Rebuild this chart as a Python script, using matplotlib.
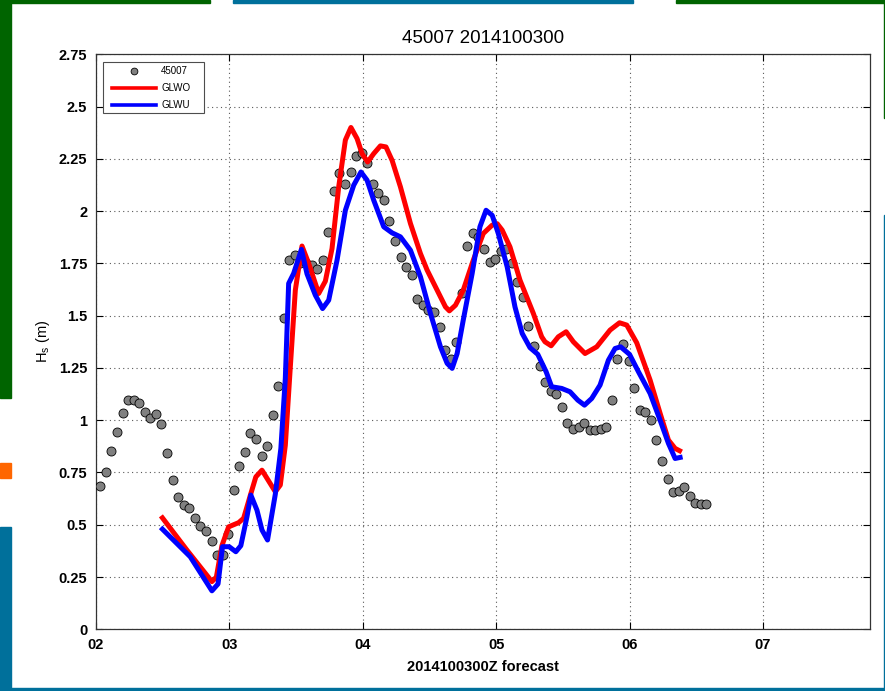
import numpy as np
import matplotlib
matplotlib.use("Agg")
import matplotlib.pyplot as plt
from matplotlib.patches import Rectangle

# buoy 45007 observations, hourly (hours after 02 00Z, obs at :50)
obs_start = 0.83
obs_hs = [0.686, 0.750, 0.852, 0.945, 1.035, 1.099, 1.096, 1.080, 1.039, 1.009,
          1.028, 0.980, 0.841, 0.714, 0.634, 0.593, 0.578, 0.533, 0.492, 0.471,
          0.421, 0.355, 0.357, 0.454, 0.664, 0.782, 0.847, 0.938, 0.911, 0.827,
          0.876, 1.024, 1.162, 1.489, 1.765, 1.788, 1.752, 1.750, 1.741, 1.722,
          1.768, 1.898, 2.095, 2.180, 2.131, 2.187, 2.262, 2.278, 2.230, 2.129,
          2.086, 2.052, 1.955, 1.859, 1.780, 1.735, 1.696, 1.582, 1.550, 1.529,
          1.516, 1.444, 1.334, 1.291, 1.373, 1.610, 1.831, 1.895, 1.875, 1.819,
          1.758, 1.770, 1.809, 1.818, 1.752, 1.662, 1.587, 1.450, 1.356, 1.260,
          1.182, 1.141, 1.125, 1.061, 0.988, 0.956, 0.966, 0.988, 0.953, 0.953,
          0.956, 0.967, 1.099, 1.291, 1.364, 1.284, 1.152, 1.047, 1.037, 1.002,
          0.905, 0.805, 0.720, 0.658, 0.661, 0.680, 0.636, 0.602, 0.600, 0.600]

# GLWO forecast
glwo_hr = [12.0, 16.4, 20.9, 21.7, 22.7, 23.9, 25.7, 26.6, 27.8, 28.8,
           29.9, 32.3, 33.2, 34.1, 35.0, 35.9, 37.1, 38.3, 40.1, 41.3,
           42.5, 43.7, 44.9, 45.9, 47.0, 47.9, 48.9, 50.0, 51.2, 52.2,
           53.3, 54.8, 56.6, 58.4, 59.6, 61.4, 62.9, 63.6, 64.7, 66.1,
           67.9, 69.7, 71.3, 72.2, 73.1, 74.5, 76.3, 78.7, 80.2, 80.8,
           81.9, 83.2, 84.6, 85.9, 88.0, 90.1, 92.5, 94.2, 95.5, 97.3,
           99.7, 101.5, 103.0, 104.2, 105.0]
glwo_hs = [0.533, 0.379, 0.228, 0.250, 0.400, 0.490, 0.510, 0.531, 0.640, 0.729,
           0.761, 0.658, 0.690, 0.880, 1.255, 1.622, 1.833, 1.750, 1.606, 1.665,
           1.821, 2.116, 2.340, 2.400, 2.347, 2.275, 2.235, 2.275, 2.312, 2.307,
           2.243, 2.116, 1.941, 1.797, 1.718, 1.622, 1.542, 1.523, 1.550, 1.622,
           1.765, 1.893, 1.933, 1.940, 1.909, 1.829, 1.670, 1.511, 1.399, 1.375,
           1.356, 1.399, 1.423, 1.375, 1.319, 1.351, 1.431, 1.466, 1.455, 1.370,
           1.192, 1.033, 0.905, 0.865, 0.854]

# GLWU forecast
glwu_hr = [12.0, 17.0, 20.9, 22.0, 22.8, 24.0, 25.2, 26.1, 27.2, 27.9,
           29.0, 29.9, 30.9, 32.3, 33.3, 34.1, 34.7, 35.6, 37.0, 38.0,
           39.5, 40.8, 41.9, 43.4, 44.9, 46.4, 47.7, 48.8, 50.0, 51.8,
           53.3, 54.8, 56.6, 58.4, 60.2, 62.0, 63.2, 64.1, 65.0, 66.1,
           67.7, 69.1, 70.2, 71.3, 72.4, 74.0, 75.4, 76.7, 78.1, 79.5,
           81.0, 82.0, 83.8, 85.3, 86.7, 87.9, 89.2, 90.7, 92.2, 93.4,
           94.4, 96.0, 97.6, 99.7, 101.5, 103.0, 104.2, 105.1]
glwu_hs = [0.479, 0.347, 0.184, 0.217, 0.395, 0.395, 0.371, 0.400, 0.538, 0.642,
           0.570, 0.475, 0.427, 0.646, 0.865, 1.200, 1.654, 1.702, 1.817, 1.700,
           1.598, 1.534, 1.574, 1.765, 2.004, 2.124, 2.187, 2.148, 2.052, 1.925,
           1.896, 1.877, 1.813, 1.686, 1.511, 1.351, 1.272, 1.248, 1.319, 1.479,
           1.702, 1.925, 2.004, 1.980, 1.893, 1.733, 1.542, 1.415, 1.347, 1.315,
           1.232, 1.160, 1.152, 1.136, 1.096, 1.072, 1.104, 1.168, 1.287, 1.343,
           1.351, 1.315, 1.232, 1.128, 1.000, 0.889, 0.817, 0.822]

day_labels = ["02", "03", "04", "05", "06", "07"]
y_ticks = [0, 0.25, 0.5, 0.75, 1, 1.25, 1.5, 1.75, 2, 2.25, 2.5, 2.75]
y_labels = ["0", "0.25", "0.5", "0.75", "1", "1.25", "1.5", "1.75", "2", "2.25", "2.5", "2.75"]

plt.rcParams["font.family"] = ["Liberation Sans", "DejaVu Sans"]

W, H = 885, 691
fig = plt.figure(figsize=(W / 100, H / 100), dpi=100)
fig.patch.set_facecolor("white")


def fx(px):
    return px / W


def fy(py):
    return 1 - py / H


# bits of the desktop behind the window (pixel boxes)
def box(x0, y0, x1, y1, c):
    fig.patches.append(Rectangle((fx(x0), fy(y1)), (x1 - x0) / W, (y1 - y0) / H,
                                 transform=fig.transFigure, color=c, zorder=-5))


green = "#006400"
teal = "#00709b"
box(0, 0, 11, 398, green)
box(0, 0, 210, 3, green)
box(233, 0, 633, 3, teal)
box(676, 0, 885, 3, green)
box(884, 0, 885, 118, green)
box(0, 527, 11, 691, teal)
box(0, 688, 885, 691, teal)
box(884, 215, 885, 691, teal)
box(0, 463, 11, 478, "#ff6600")

ax = fig.add_axes([fx(95.7), fy(629.3), (870.3 - 95.7) / W, (629.3 - 54.3) / H])

obs_hr = obs_start + np.arange(len(obs_hs))
ax.plot(obs_hr, obs_hs, "o", color="#808080", mec="black", mew=0.6, ms=6.5,
        label="45007", zorder=3)
ax.plot(glwo_hr, glwo_hs, "-", color="red", lw=3.6, label="GLWO", zorder=4)
ax.plot(glwu_hr, glwu_hs, "-", color="blue", lw=3.6, label="GLWU", zorder=5)

ax.set_xlim(0, 139.3)
ax.set_ylim(0, 2.75)
ax.set_xticks(np.arange(len(day_labels)) * 24)
ax.set_xticklabels(day_labels)
ax.set_yticks(y_ticks)
ax.set_yticklabels(y_labels)
ax.tick_params(direction="in", top=True, right=True, length=5, width=0.8,
               labelsize=10.5, pad=6)
for lab in ax.get_xticklabels() + ax.get_yticklabels():
    lab.set_fontweight("bold")
ax.grid(True, linestyle=(0, (1, 3)), color="0.35", lw=0.8)
for sp in ax.spines.values():
    sp.set_color("0.2")
    sp.set_linewidth(0.9)

ax.set_title("45007 2014100300", fontsize=13.5, pad=8)
ax.set_xlabel("2014100300Z forecast", fontsize=10.5, fontweight="bold", labelpad=6)
ax.set_ylabel(r"H$_\mathregular{s}$ (m)", fontsize=10.5, labelpad=5)

# legend frame drawn by hand (MATLAB style box)
frame = Rectangle((fx(103.3), fy(113.3)), (204 - 103.3) / W, (113.3 - 61.7) / H,
                  transform=fig.transFigure, facecolor="white", edgecolor="0.3",
                  lw=0.8, zorder=6)
ax.add_patch(frame)
frame.set_clip_on(False)
leg = ax.legend(loc="upper left", bbox_to_anchor=(fx(111.7), fy(66.0)),
                bbox_transform=fig.transFigure, fontsize=7, frameon=False,
                handlelength=4.6, handletextpad=0.5, borderpad=0,
                borderaxespad=0, labelspacing=0.72, markerscale=0.75)
leg.set_zorder(7)
for h in leg.get_lines():
    h.set_linewidth(2.6)

fig.savefig("out.png", dpi=100, facecolor=fig.get_facecolor())
